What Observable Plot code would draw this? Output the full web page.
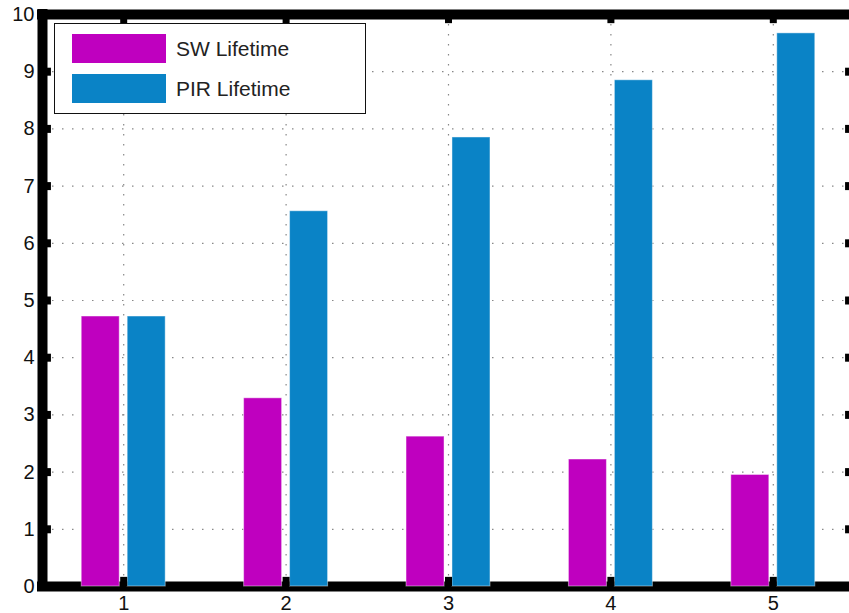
<!DOCTYPE html>
<html>
<head>
<meta charset="utf-8">
<script src="https://cdn.jsdelivr.net/npm/d3@7"></script>
<script src="https://cdn.jsdelivr.net/npm/@observablehq/plot@0.6"></script>
<style>
  html, body { margin: 0; padding: 0; background: #fff; overflow: hidden; }
  #wrap { position: relative; width: 849px; height: 613px; overflow: hidden; }
  #wrap svg { max-width: none !important; display: block; }
  #legend {
    position: absolute; left: 54px; top: 23px; width: 310px; height: 89px;
    border: 1.5px solid #111; background: #fff; box-sizing: content-box;
    font-family: "Liberation Sans", Arial, sans-serif; font-size: 21px; color: #222;
  }
  .item { position: absolute; left: 17px; height: 30px; display: flex; align-items: center; }
  .sw { width: 94px; height: 29px; margin-right: 10px; }
</style>
</head>
<body>
<div id="wrap"></div>
<script>
const categories = [1, 2, 3, 4, 5];
const seriesNames = ["SW Lifetime", "PIR Lifetime"];
const swLifetime = [4.72, 3.29, 2.62, 2.22, 1.95];
const pirLifetime = [4.72, 6.56, 7.85, 8.85, 9.67];
const yTickValues = [0, 1, 2, 3, 4, 5, 6, 7, 8, 9, 10];
const colors = ["#bf00bf", "#0a83c6"];

const rows = categories.flatMap((c, i) => [
  {cat: c, series: seriesNames[0], value: swLifetime[i]},
  {cat: c, series: seriesNames[1], value: pirLifetime[i]}
]);

const xMin = 0.5, xMax = 5.5, yMin = 0, yMax = 10;
const offset = {"SW Lifetime": -0.1415, "PIR Lifetime": 0.1415};
const halfW = 0.117;
const innerGrid = yTickValues.filter(v => v > yMin && v < yMax);

const chart = Plot.plot({
  width: 860,
  height: 613,
  marginLeft: 42,
  marginRight: 6,
  marginTop: 14,
  marginBottom: 27,
  style: {fontFamily: "Liberation Sans, Arial, sans-serif", fontSize: "20px", color: "#111", background: "#fff", maxWidth: "none"},
  x: {domain: [xMin, xMax], label: null},
  y: {domain: [yMin, yMax], label: null},
  color: {domain: seriesNames, range: colors},
  marks: [
    Plot.ruleY(innerGrid, {stroke: "#888", strokeWidth: 1.2, strokeDasharray: "1.5,8.5"}),
    Plot.ruleX(categories, {stroke: "#888", strokeWidth: 1.2, strokeDasharray: "1.5,8.5"}),
    Plot.ruleY([yMin, yMax], {x1: xMin, x2: xMax, stroke: "#000", strokeWidth: 10, strokeLinecap: "square"}),
    Plot.rectY(rows, {
      x1: d => d.cat + offset[d.series] - halfW,
      x2: d => d.cat + offset[d.series] + halfW,
      y: "value",
      fill: "series",
      stroke: "#fff",
      strokeOpacity: 0.45,
      strokeWidth: 1
    }),
    Plot.ruleX([xMin, xMax], {y1: yMin, y2: yMax, stroke: "#000", strokeWidth: 10, strokeLinecap: "square"}),
    Plot.ruleY(innerGrid, {x1: xMin, x2: xMin + 0.055, stroke: "#000", strokeWidth: 8}),
    Plot.ruleY(innerGrid, {x1: xMax, x2: xMax - 0.055, stroke: "#000", strokeWidth: 8}),
    Plot.ruleX(categories, {y1: yMin, y2: yMin + 0.16, stroke: "#000", strokeWidth: 7}),
    Plot.ruleX(categories, {y1: yMax, y2: yMax - 0.16, stroke: "#000", strokeWidth: 7}),
    Plot.axisY(yTickValues, {tickSize: 0, tickPadding: 8, fontSize: 20, fill: "#111", label: null, tickFormat: d => String(d)}),
    Plot.axisX(categories, {tickSize: 0, tickPadding: 9, fontSize: 20, fill: "#111", label: null, tickFormat: d => String(d)})
  ]
});
chart.style.maxWidth = "none";

const wrap = document.getElementById("wrap");
wrap.appendChild(chart);

const legend = document.createElement("div");
legend.id = "legend";
seriesNames.forEach((name, i) => {
  const item = document.createElement("div");
  item.className = "item";
  item.style.top = (i === 0 ? 9.5 : 49.5) + "px";
  const sw = document.createElement("div");
  sw.className = "sw";
  sw.style.background = colors[i];
  const label = document.createElement("span");
  label.textContent = name;
  item.appendChild(sw);
  item.appendChild(label);
  legend.appendChild(item);
});
wrap.appendChild(legend);
</script>
</body>
</html>
